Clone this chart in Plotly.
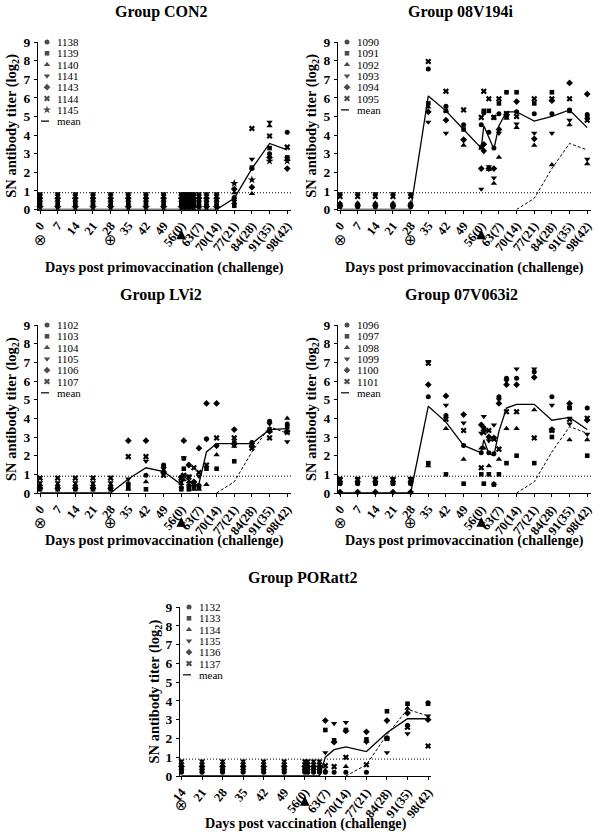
import plotly.graph_objects as go

FIG_W, FIG_H = 600, 835

# ---------------- data (log2 SN titers) ----------------
main_tick_days = [0, 7, 14, 21, 28, 35, 42, 49, 56, 63, 70, 77, 84, 91, 98]
main_tick_text = ["0", "7", "14", "21", "28", "35", "42", "49",
                  "56(0)", "63(7)", "70(14)", "77(21)", "84(28)", "91(35)", "98(42)"]
por_tick_days = [14, 21, 28, 35, 42, 49, 56, 63, 70, 77, 84, 91, 98]
por_tick_text = ["14", "21", "28", "35", "42", "49",
                 "56(0)", "63(7)", "70(14)", "77(21)", "84(28)", "91(35)", "98(42)"]

# Group CON2
con2_days = [0, 7, 14, 21, 28, 35, 42, 49, 56, 57, 58, 59, 60, 61, 63, 66, 70, 77, 84, 91, 98]
con2_ids = ["1138", "1139", "1140", "1141", "1143", "1144", "1145"]
con2_1138 = [0.2, 0.2, 0.2, 0.2, 0.2, 0.2, 0.2, 0.2, 0.2, 0.2, 0.2, 0.2, 0.2, 0.2, 0.2, 0.2, 0.2, 0.65, 2.2, 3.0, 4.15]
con2_1139 = [0.35, 0.35, 0.35, 0.35, 0.35, 0.35, 0.35, 0.35, 0.35, 0.35, 0.35, 0.35, 0.35, 0.35, 0.35, 0.35, 0.35, 0.2, 2.25, 3.3, 2.8]
con2_1140 = [0.5, 0.5, 0.5, 0.5, 0.5, 0.5, 0.5, 0.5, 0.5, 0.5, 0.5, 0.5, 0.5, 0.5, 0.5, 0.5, 0.5, 0.9, 0.85, 4.5, 2.7]
con2_1141 = [0.85, 0.85, 0.85, 0.85, 0.85, 0.85, 0.85, 0.85, 0.85, 0.85, 0.85, 0.85, 0.85, 0.85, 0.85, 0.85, 0.85, 0.55, 2.7, 4.7, 2.75]
con2_1143 = [0.6, 0.6, 0.6, 0.6, 0.6, 0.6, 0.6, 0.6, 0.6, 0.6, 0.6, 0.6, 0.6, 0.6, 0.6, 0.6, 0.6, 1.1, 1.2, 2.8, 2.2]
con2_1144 = [0.7, 0.7, 0.7, 0.7, 0.7, 0.7, 0.7, 0.7, 0.7, 0.7, 0.7, 0.7, 0.7, 0.7, 0.7, 0.7, 0.7, 0.4, 4.35, 3.95, 3.35]
con2_1145 = [0.1, 0.1, 0.1, 0.1, 0.1, 0.1, 0.1, 0.1, 0.1, 0.1, 0.1, 0.1, 0.1, 0.1, 0.1, 0.1, 0.1, 1.4, 1.6, 2.6, 2.6]
con2_mean = [0, 0, 0, 0, 0, 0, 0, 0, 0, 0, 0, 0, 0, 0, 0, 0, 0, 0.6, 2.2, 3.55, 3.2]

# Group 08V194i
v194_days = [0, 7, 14, 21, 28, 35, 42, 49, 56, 57, 59, 61, 63, 66, 70, 77, 84, 91, 98]
v194_ids = ["1090", "1091", "1092", "1093", "1094", "1095"]
v194_1090 = [0.15, 0.15, 0.15, 0.15, 0.15, 7.55, 5.55, 4.55, 4.55, 5.2, 4.15, 3.3, 5.15, 5.0, 5.25, 5.15, 5.15, 5.35, 5.1]
v194_1091 = [0.25, 0.25, 0.25, 0.25, 0.25, 5.7, 5.3, 4.3, 3.35, 5.3, 5.3, 4.95, 5.7, 6.3, 6.3, 5.7, 6.3, 5.3, 4.95]
v194_1092 = [0.35, 0.35, 0.35, 0.35, 0.35, 5.5, 5.3, 3.45, 3.3, 3.2, 2.15, 1.4, 2.8, 4.9, 4.4, 3.45, 2.4, 4.55, 2.45]
v194_1093 = [0.85, 0.85, 0.85, 0.85, 0.85, 4.7, 4.1, 3.7, 1.1, 3.1, 2.3, 1.7, 4.1, 5.05, 4.6, 4.1, 4.1, 4.8, 2.7]
v194_1094 = [0.2, 0.2, 0.2, 0.2, 0.2, 5.25, 4.8, 3.75, 2.2, 3.5, 2.2, 2.2, 4.3, 5.1, 5.8, 3.8, 5.85, 6.8, 6.2]
v194_1095 = [0.7, 0.7, 0.7, 0.7, 0.7, 7.95, 6.35, 5.35, 4.95, 6.35, 5.95, 4.95, 5.95, 5.15, 5.0, 5.95, 5.95, 5.95, 4.8]
v194_mean = [0, 0, 0, 0, 0, 6.1, 5.3, 4.3, 3.3, 4.5, 3.85, 3.25, 4.5, 5.25, 5.25, 4.75, 5.0, 5.35, 4.4]

# Group LVi2
lvi2_days = [0, 7, 14, 21, 28, 35, 42, 49, 56, 57, 59, 61, 63, 66, 70, 77, 84, 91, 98]
lvi2_ids = ["1102", "1103", "1104", "1105", "1106", "1107"]
lvi2_1102 = [0.3, 0.3, 0.3, 0.3, 0.3, 0.5, 0.95, 1.5, 0.3, 1.85, 0.4, 0.4, 0.4, 2.9, 2.55, 2.7, 2.7, 3.85, 3.7]
lvi2_1103 = [0.2, 0.2, 0.2, 0.2, 0.2, 0.3, 0.2, 1.4, 0.2, 1.3, 0.2, 0.3, 0.3, 1.3, 1.3, 1.7, 2.55, 3.4, 3.55]
lvi2_1104 = [0.45, 0.45, 0.45, 0.45, 0.45, 0.2, 0.6, 1.2, 0.5, 0.7, 0.6, 0.2, 0.2, 0.45, 2.05, 2.5, 2.7, 3.3, 4.0]
lvi2_1105 = [0.55, 0.55, 0.55, 0.55, 0.55, 0.75, 1.7, 1.3, 0.6, 1.9, 0.9, 0.5, 0.9, 2.85, 2.5, 2.55, 2.6, 3.7, 2.75]
lvi2_1106 = [0.25, 0.25, 0.25, 0.25, 0.25, 2.8, 2.8, 1.1, 0.85, 2.8, 1.5, 0.6, 2.4, 4.8, 4.8, 3.4, 2.5, 3.3, 3.3]
lvi2_1107 = [0.8, 0.8, 0.8, 0.8, 0.8, 1.95, 1.95, 0.95, 0.8, 0.95, 0.85, 1.35, 1.1, 1.5, 2.95, 2.95, 2.4, 2.95, 3.25]
lvi2_mean = [0, 0, 0, 0, 0, 0.75, 1.35, 1.15, 0.45, 0.9, 0.7, 0.4, 0.5, 2.2, 2.65, 2.65, 2.65, 3.4, 3.45]

# Group 07V063i2
v063_days = [0, 7, 14, 21, 28, 35, 42, 49, 56, 57, 59, 61, 63, 66, 70, 77, 84, 91, 98]
v063_ids = ["1096", "1097", "1098", "1099", "1100", "1101"]
v063_1096 = [0.5, 0.5, 0.5, 0.5, 0.5, 5.15, 4.15, 2.55, 2.15, 3.5, 2.15, 2.1, 5.15, 6.15, 6.15, 6.5, 5.15, 4.6, 4.55]
v063_1097 = [0.55, 0.55, 0.55, 0.55, 0.55, 1.6, 1.0, 0.5, 1.0, 0.5, 1.0, 0.45, 1.0, 1.6, 2.0, 1.6, 3.0, 4.55, 2.0]
v063_1098 = [0.65, 0.65, 0.65, 0.65, 0.65, 1.45, 3.45, 1.8, 2.4, 2.4, 1.45, 0.5, 1.8, 3.45, 3.45, 4.45, 3.35, 2.85, 2.85]
v063_1099 = [0.8, 0.8, 0.8, 0.8, 0.8, 7.05, 4.7, 3.75, 3.2, 4.1, 2.8, 3.65, 5.0, 6.0, 6.65, 6.65, 4.7, 3.7, 3.15]
v063_1100 = [0.05, 0.05, 0.05, 0.05, 0.05, 5.8, 5.2, 4.2, 3.65, 3.35, 3.0, 2.95, 4.8, 5.8, 5.8, 6.2, 3.4, 4.8, 3.9]
v063_1101 = [0.7, 0.7, 0.7, 0.7, 0.7, 6.95, 3.95, 3.35, 1.35, 3.25, 3.35, 2.9, 2.35, 4.35, 4.35, 2.95, 3.35, 3.95, 4.0]
v063_mean = [0, 0, 0, 0, 0, 4.65, 3.8, 2.55, 2.15, 2.85, 2.1, 2.0, 3.3, 4.55, 4.75, 4.75, 3.9, 4.05, 3.4]

# Group PORatt2
por_days = [14, 21, 28, 35, 42, 49, 56, 57, 59, 61, 63, 66, 70, 77, 84, 91, 98]
por_ids = ["1132", "1133", "1134", "1135", "1136", "1137"]
por_1132 = [0.2, 0.2, 0.2, 0.2, 0.2, 0.2, 0.2, 0.2, 0.2, 0.2, 0.2, 0.2, 0.2, 0.2, 2.0, 2.7, 3.9]
por_1133 = [0.3, 0.3, 0.3, 0.3, 0.3, 0.3, 0.3, 0.3, 0.3, 0.3, 2.45, 1.9, 2.45, 1.95, 3.45, 3.85, 3.85]
por_1134 = [0.4, 0.4, 0.4, 0.4, 0.4, 0.4, 0.4, 0.4, 0.4, 0.4, 0.3, 1.85, 0.5, 1.85, 2.05, 3.6, 3.05]
por_1135 = [0.8, 0.8, 0.8, 0.8, 0.8, 0.8, 0.8, 0.8, 0.8, 0.8, 1.25, 2.8, 2.85, 1.8, 1.25, 2.25, 3.2]
por_1136 = [0.5, 0.5, 0.5, 0.5, 0.5, 0.5, 0.5, 0.5, 0.5, 0.5, 2.95, 1.8, 2.4, 2.35, 2.95, 3.35, 3.0]
por_1137 = [0.6, 0.6, 0.6, 0.6, 0.6, 0.6, 0.6, 0.6, 0.6, 0.6, 0.55, 0.5, 1.0, 0.6, 2.0, 2.6, 1.6]
por_mean = [0, 0, 0, 0, 0, 0, 0, 0, 0, 0, 1.0, 1.4, 1.55, 1.3, 2.3, 3.05, 3.05]

detection_limit = 0.9
challenge_day = 56
# ---------------------------------------------------------------------------

SYMBOLS = ["circle", "square", "triangle-up", "triangle-down", "diamond", "x", "star"]
SIZES = {"circle": 5, "square": 4.6, "triangle-up": 5.6, "triangle-down": 5.6,
         "diamond": 5.2, "x": 5.4, "star": 6.2}
SERIF = "Liberation Serif, Times New Roman, serif"

XL1 = "Days post primovaccination (challenge)"
XL2 = "Days post vaccination (challenge)"

panels = [
    dict(title="Group CON2", days=con2_days, ids=con2_ids,
         series=[con2_1138, con2_1139, con2_1140, con2_1141, con2_1143, con2_1144, con2_1145],
         mean=con2_mean, dashed=False, tickv=main_tick_days, tickt=main_tick_text,
         xr=[-0.8, 99.5], xpx=(38, 291), ypx=(42, 209.5), title_xy=(161, 12),
         xl=XL1, xl_y=267, ytitle_x=12, marks=[(0, "⊗"), (28, "⊕")], mark_dy=31, arrow_dy=20),
    dict(title="Group 08V194i", days=v194_days, ids=v194_ids,
         series=[v194_1090, v194_1091, v194_1092, v194_1093, v194_1094, v194_1095],
         mean=v194_mean, dashed=True, tickv=main_tick_days, tickt=main_tick_text,
         xr=[-0.8, 99.5], xpx=(338, 591), ypx=(42, 209.5), title_xy=(461, 12),
         xl=XL1, xl_y=267, ytitle_x=312, marks=[(0, "⊗"), (28, "⊕")], mark_dy=31, arrow_dy=20),
    dict(title="Group LVi2", days=lvi2_days, ids=lvi2_ids,
         series=[lvi2_1102, lvi2_1103, lvi2_1104, lvi2_1105, lvi2_1106, lvi2_1107],
         mean=lvi2_mean, dashed=True, tickv=main_tick_days, tickt=main_tick_text,
         xr=[-0.8, 99.5], xpx=(38, 291), ypx=(325, 493), title_xy=(161, 295),
         xl=XL1, xl_y=540, ytitle_x=12, marks=[(0, "⊗"), (28, "⊕")], mark_dy=30, arrow_dy=24),
    dict(title="Group 07V063i2", days=v063_days, ids=v063_ids,
         series=[v063_1096, v063_1097, v063_1098, v063_1099, v063_1100, v063_1101],
         mean=v063_mean, dashed=True, tickv=main_tick_days, tickt=main_tick_text,
         xr=[-0.8, 99.5], xpx=(338, 591), ypx=(325, 493), title_xy=(461, 295),
         xl=XL1, xl_y=540, ytitle_x=312, marks=[(0, "⊗"), (28, "⊕")], mark_dy=30, arrow_dy=24),
    dict(title="Group PORatt2", days=por_days, ids=por_ids,
         series=[por_1132, por_1133, por_1134, por_1135, por_1136, por_1137],
         mean=por_mean, dashed=True, tickv=por_tick_days, tickt=por_tick_text,
         xr=[13.5, 99], xpx=(180, 431), ypx=(607, 776), title_xy=(302, 578),
         xl=XL2, xl_y=823, ytitle_x=154, marks=[(14, "⊗")], mark_dy=29, arrow_dy=20),
]

fig = go.Figure()
layout = dict(width=FIG_W, height=FIG_H,
              margin=dict(l=0, r=0, t=0, b=0, pad=0, autoexpand=False),
              plot_bgcolor="white", paper_bgcolor="white", showlegend=False,
              hovermode=False, font=dict(family=SERIF, color="black"))
annotations = []
shapes = []


def px_to_paper_y(py):
    return 1 - py / FIG_H


def px_to_paper_x(px):
    return px / FIG_W


for k, p in enumerate(panels, start=1):
    xa = "x" if k == 1 else f"x{k}"
    ya = "y" if k == 1 else f"y{k}"
    xkey = "xaxis" if k == 1 else f"xaxis{k}"
    ykey = "yaxis" if k == 1 else f"yaxis{k}"
    x0px, x1px = p["xpx"]
    ytop, ybot = p["ypx"]
    r0, r1 = p["xr"]
    ppd = (x1px - x0px) / (r1 - r0)
    ppu = (ybot - ytop) / 9.0

    def xdata(px):
        return r0 + (px - x0px) / ppd

    layout[xkey] = dict(domain=[px_to_paper_x(x0px), px_to_paper_x(x1px)], range=p["xr"],
                        anchor=ya, showline=True, linecolor="black", linewidth=1,
                        ticks="outside", ticklen=3, tickwidth=1, tickcolor="black",
                        showgrid=False, zeroline=False, tickmode="array", automargin=False,
                        tickvals=p["tickv"], ticktext=p["tickt"], tickangle=-52,
                        tickfont=dict(family=SERIF, size=12.5, color="black", weight="bold"))
    layout[ykey] = dict(domain=[px_to_paper_y(ybot), px_to_paper_y(ytop)], range=[0, 9],
                        anchor=xa, showline=True, linecolor="black", linewidth=1,
                        ticks="outside", ticklen=3, tickwidth=1, tickcolor="black",
                        showgrid=False, zeroline=False, tickmode="array", automargin=False,
                        tickvals=list(range(10)), ticklabelstandoff=1,
                        tickfont=dict(family=SERIF, size=13.5, color="black", weight="bold"))

    # detection limit (dotted)
    shapes.append(dict(type="line", xref=f"{xa} domain", yref=ya, x0=0, x1=1,
                       y0=detection_limit, y1=detection_limit,
                       line=dict(color="black", width=1, dash="1px,2px")))

    # individual animals
    for i, vals in enumerate(p["series"]):
        sym = SYMBOLS[i]
        fig.add_trace(go.Scatter(x=p["days"], y=vals, mode="markers", xaxis=xa, yaxis=ya,
                                 cliponaxis=False, name=p["ids"][i],
                                 marker=dict(symbol=sym, size=SIZES[sym], color="black",
                                             line=dict(width=0))))
    # group mean
    fig.add_trace(go.Scatter(x=p["days"], y=p["mean"], mode="lines", xaxis=xa, yaxis=ya,
                             cliponaxis=False, name="mean",
                             line=dict(color="black", width=1.3)))
    # CON2 mean (dashed) for comparison, from day 70 on
    if p["dashed"]:
        dd = [d for d in con2_days if d >= 70]
        dv = [v for d, v in zip(con2_days, con2_mean) if d >= 70]
        fig.add_trace(go.Scatter(x=dd, y=dv, mode="lines", xaxis=xa, yaxis=ya,
                                 cliponaxis=False, name="CON2 mean",
                                 line=dict(color="black", width=1, dash="3px,2px")))

    # legend (drawn inside the plot, top-left)
    n = len(p["ids"])
    step = 11.3 / ppu
    leg_y = [9 - j * step for j in range(n)]
    fig.add_trace(go.Scatter(x=[xdata(x0px + 9)] * n, y=leg_y, mode="markers",
                             xaxis=xa, yaxis=ya, cliponaxis=False, hoverinfo="skip",
                             marker=dict(symbol=SYMBOLS[:n], size=[SIZES[s] for s in SYMBOLS[:n]],
                                         color="black", line=dict(width=0))))
    for j, lab in enumerate(p["ids"]):
        annotations.append(dict(x=xdata(x0px + 17), y=leg_y[j], xref=xa, yref=ya, text=lab,
                                showarrow=False, xanchor="left", yanchor="middle",
                                font=dict(family=SERIF, size=11, color="black")))
    ym = 9 - n * step
    shapes.append(dict(type="line", xref=xa, yref=ya, x0=xdata(x0px + 3), x1=xdata(x0px + 11),
                       y0=ym, y1=ym, line=dict(color="black", width=1.2)))
    annotations.append(dict(x=xdata(x0px + 17), y=ym, xref=xa, yref=ya, text="mean",
                            showarrow=False, xanchor="left", yanchor="middle",
                            font=dict(family=SERIF, size=11, color="black")))

    # title
    annotations.append(dict(x=px_to_paper_x(p["title_xy"][0]), y=px_to_paper_y(p["title_xy"][1]),
                            xref="paper", yref="paper", text=f"<b>{p['title']}</b>",
                            showarrow=False, xanchor="center", yanchor="middle",
                            font=dict(family=SERIF, size=16, color="black")))
    # x-axis title
    annotations.append(dict(x=px_to_paper_x((x0px + x1px) / 2), y=px_to_paper_y(p["xl_y"]),
                            xref="paper", yref="paper", text=f"<b>{p['xl']}</b>",
                            showarrow=False, xanchor="center", yanchor="middle",
                            font=dict(family=SERIF, size=14.2, color="black")))
    # y-axis title
    annotations.append(dict(x=px_to_paper_x(p["ytitle_x"]), y=px_to_paper_y((ytop + ybot) / 2),
                            xref="paper", yref="paper",
                            text="<b>SN antibody titer (log<sub>2</sub>)</b>", textangle=-90,
                            showarrow=False, xanchor="center", yanchor="middle",
                            font=dict(family=SERIF, size=14.5, color="black")))
    # vaccination marks below the axis
    for day, glyph in p["marks"]:
        annotations.append(dict(x=day, y=px_to_paper_y(ybot + p["mark_dy"]), xref=xa, yref="paper",
                                text=glyph, showarrow=False, xanchor="center", yanchor="middle",
                                font=dict(family="DejaVu Sans", size=15, color="black")))
    # challenge arrow
    annotations.append(dict(x=challenge_day, y=px_to_paper_y(ybot + p["arrow_dy"]), xref=xa,
                            yref="paper", text="", showarrow=True, ax=0, ay=11,
                            arrowhead=2, arrowsize=0.75, arrowwidth=2.6, arrowcolor="black"))

layout["annotations"] = annotations
layout["shapes"] = shapes
fig.update_layout(**layout)
# remove the default page margin so the figure sits at the window's top-left corner
fig.write_html("out.html", config={"staticPlot": True, "displayModeBar": False},
               post_script="document.body.style.margin='0px';")
